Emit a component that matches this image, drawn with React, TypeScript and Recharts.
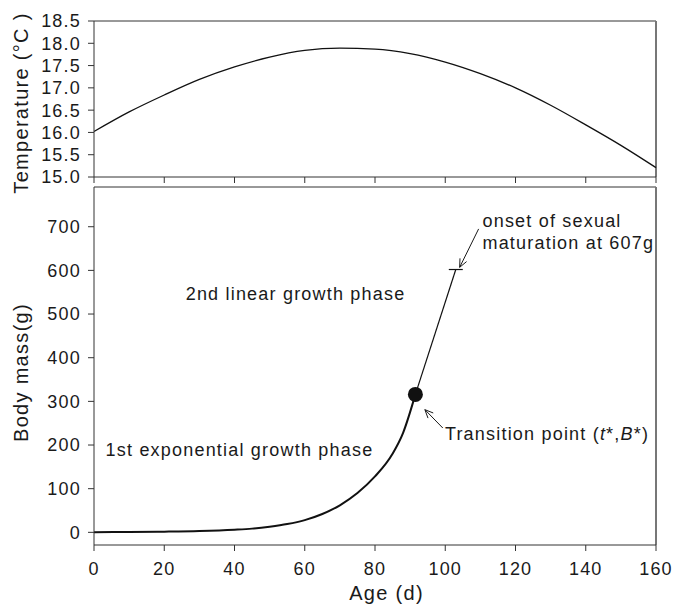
import React from 'react'
import { LineChart, Line, XAxis, YAxis, ReferenceLine, ReferenceDot } from 'recharts'

// tick values
const ageTicks = [0, 20, 40, 60, 80, 100, 120, 140, 160]
const tempTicks = [15, 15.5, 16, 16.5, 17, 17.5, 18, 18.5]
const massTicks = [0, 100, 200, 300, 400, 500, 600, 700]
const tempDomain = [15, 18.5]
const massDomain = [-29, 791]

// water temperature over the rearing period
const tempAge = [0, 10, 20, 30, 40, 50, 60, 70, 80, 90, 100, 110, 120, 130, 140, 150, 160]
const tempValue = [16.02, 16.46, 16.84, 17.19, 17.47, 17.69, 17.84, 17.89, 17.87, 17.77, 17.58, 17.32, 17.0, 16.61, 16.17, 15.71, 15.21]

// 1st exponential growth phase
const expAge = [0, 10, 20, 30, 40, 45, 50, 55, 60, 65, 70, 75, 80, 85, 88, 91.5]
const expMass = [0.3, 0.8, 1.6, 3, 6, 8.5, 13, 19, 28, 42, 62, 90, 128, 180, 228, 316]

// 2nd linear growth phase: transition point -> onset of sexual maturation
const linAge = [91.5, 103]
const linMass = [316, 602]

const tempData = tempAge.map((age, i) => ({ age, temp: tempValue[i] }))
const expData = expAge.map((age, i) => ({ age, mass: expMass[i] }))
const linData = linAge.map((age, i) => ({ age, mass: linMass[i] }))

const FONT = '"Liberation Sans", Arial, Helvetica, sans-serif'
const INK = '#1a1a1a'
const AXIS = '#333'

const tickStyle = { fontSize: 18, fill: INK, fontFamily: FONT, letterSpacing: 1.2 }

// text notes, placed in data units (left edge, baseline)
const notes = [
  { age: 110.6, mass: 699, text: 'onset of sexual' },
  { age: 110.6, mass: 650, text: 'maturation at 607g' },
  { age: 26.1, mass: 532, text: '2nd linear growth phase' },
  { age: 3.3, mass: 174, text: '1st exponential growth phase' },
]
const transitionNote = { age: 99.9, mass: 212 }

// arrows: tail -> tip
const arrows = [
  [{ x: 109.5, y: 695 }, { x: 104.1, y: 607 }],
  [{ x: 99.3, y: 239 }, { x: 94.2, y: 281 }],
]

function rotatedTitle(text: string, shift: number) {
  // eslint-disable-next-line @typescript-eslint/no-explicit-any
  return (props: any) => {
    const vb = props.viewBox
    const cx = 27.5
    const cy = vb.y + vb.height / 2 + shift
    return (
      <text
        x={cx}
        y={cy}
        transform={`rotate(-90 ${cx} ${cy})`}
        textAnchor="middle"
        fontSize={20}
        letterSpacing={1.3}
        fontFamily={FONT}
        fill={INK}
      >
        {text}
      </text>
    )
  }
}

// eslint-disable-next-line @typescript-eslint/no-explicit-any
function ageTitle(props: any) {
  const vb = props.viewBox
  return (
    <text
      x={vb.x + vb.width / 2 + 11.5}
      y={vb.y + vb.height - 4}
      textAnchor="middle"
      fontSize={20}
      letterSpacing={1.3}
      fontFamily={FONT}
      fill={INK}
    >
      Age (d)
    </text>
  )
}

// eslint-disable-next-line @typescript-eslint/no-explicit-any
function arrowShape(p: any) {
  const { x1, y1, x2, y2 } = p
  const a = Math.atan2(y2 - y1, x2 - x1)
  const len = 9
  const s = 0.42
  const h1 = `${x2 - len * Math.cos(a - s)},${y2 - len * Math.sin(a - s)}`
  const h2 = `${x2 - len * Math.cos(a + s)},${y2 - len * Math.sin(a + s)}`
  return (
    <g>
      <line x1={x1} y1={y1} x2={x2} y2={y2} stroke={INK} strokeWidth={1} />
      <polyline points={`${h1} ${x2},${y2} ${h2}`} fill="none" stroke={INK} strokeWidth={1} />
    </g>
  )
}

// first point of the linear phase = transition point, last = onset of maturation
// eslint-disable-next-line @typescript-eslint/no-explicit-any
function phaseDot(p: any) {
  const { cx, cy, index } = p
  if (index === 0) return <circle key="tp" cx={cx} cy={cy} r={7.5} fill="#111" />
  return (
    <line key="onset" x1={cx - 7} x2={cx + 7} y1={cy} y2={cy} stroke="#111" strokeWidth={1.2} />
  )
}

export default function App() {
  return (
    <div style={{ position: 'absolute', left: 0, top: 0, width: 675, height: 604, background: '#fff' }}>
      {/* upper panel: temperature */}
      <div style={{ position: 'absolute', left: 0, top: 0 }}>
        <LineChart width={675} height={200} margin={{ top: 21, right: 19, bottom: 0, left: 0 }}>
          <XAxis
            dataKey="age"
            type="number"
            domain={[0, 160]}
            ticks={ageTicks}
            interval={0}
            tickFormatter={() => ''}
            tickSize={6}
            height={23}
            stroke={AXIS}
          />
          <YAxis
            type="number"
            domain={tempDomain}
            ticks={tempTicks}
            interval={0}
            tickFormatter={(v: number) => v.toFixed(1)}
            tick={tickStyle}
            tickSize={6}
            tickMargin={7}
            width={94}
            stroke={AXIS}
            label={rotatedTitle('Temperature (°C )', 4)}
          />
          <ReferenceLine y={tempDomain[1]} stroke={AXIS} strokeWidth={1} />
          <ReferenceLine x={160} stroke="#777" strokeWidth={2} />
          <Line
            data={tempData}
            dataKey="temp"
            type="monotone"
            stroke="#111"
            strokeWidth={1.3}
            dot={false}
            activeDot={false}
            isAnimationActive={false}
          />
        </LineChart>
      </div>

      {/* lower panel: body mass */}
      <div style={{ position: 'absolute', left: 0, top: 181 }}>
        <LineChart width={675} height={423} margin={{ top: 6, right: 19, bottom: 0, left: 0 }}>
          <XAxis
            dataKey="age"
            type="number"
            domain={[0, 160]}
            ticks={ageTicks}
            interval={0}
            tick={tickStyle}
            tickSize={6}
            tickMargin={11}
            height={59}
            stroke={AXIS}
            label={ageTitle}
          />
          <YAxis
            type="number"
            domain={massDomain}
            ticks={massTicks}
            interval={0}
            tick={tickStyle}
            tickSize={6}
            tickMargin={7}
            width={94}
            stroke={AXIS}
            label={rotatedTitle('Body mass(g)', 6.5)}
          />
          <ReferenceLine y={massDomain[1]} stroke={AXIS} strokeWidth={1} />
          <ReferenceLine x={160} stroke="#777" strokeWidth={2} />
          <Line
            data={expData}
            dataKey="mass"
            type="monotone"
            stroke="#111"
            strokeWidth={2}
            dot={false}
            activeDot={false}
            isAnimationActive={false}
          />
          <Line
            data={linData}
            dataKey="mass"
            type="linear"
            stroke="#111"
            strokeWidth={1.2}
            dot={phaseDot}
            activeDot={false}
            isAnimationActive={false}
          />
          {arrows.map((seg, i) => (
            <ReferenceLine key={`arrow-${i}`} segment={seg} shape={arrowShape} />
          ))}
          {notes.map((n) => (
            <ReferenceDot
              key={n.text}
              x={n.age}
              y={n.mass}
              r={0}
              // eslint-disable-next-line @typescript-eslint/no-explicit-any
              shape={(p: any) => (
                <text x={p.cx} y={p.cy} fontSize={18} letterSpacing={1.2} fontFamily={FONT} fill={INK}>
                  {n.text}
                </text>
              )}
            />
          ))}
          <ReferenceDot
            x={transitionNote.age}
            y={transitionNote.mass}
            r={0}
            // eslint-disable-next-line @typescript-eslint/no-explicit-any
            shape={(p: any) => (
              <text x={p.cx} y={p.cy} fontSize={18} letterSpacing={1.2} fontFamily={FONT} fill={INK}>
                <tspan>Transition point (</tspan>
                <tspan fontStyle="italic">t</tspan>
                <tspan>*,</tspan>
                <tspan fontStyle="italic">B</tspan>
                <tspan>*)</tspan>
              </text>
            )}
          />
        </LineChart>
      </div>
    </div>
  )
}
